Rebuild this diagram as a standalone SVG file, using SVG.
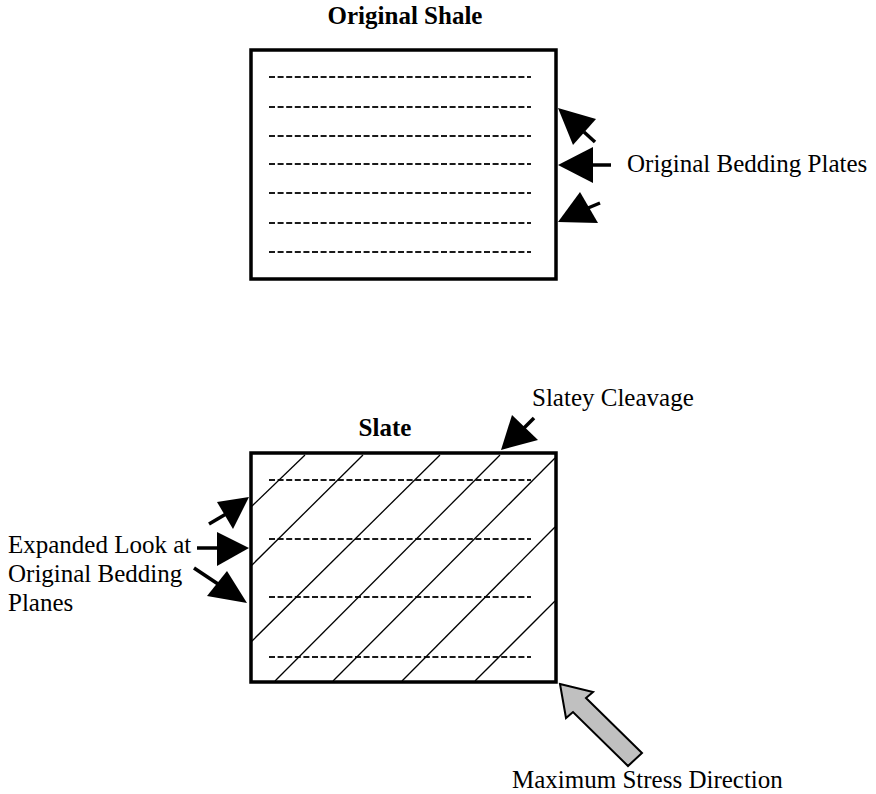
<svg xmlns="http://www.w3.org/2000/svg" width="876" height="794" viewBox="0 0 876 794">
  <style>
    .title { font-family: "Liberation Serif", "Times New Roman", serif; font-size: 25px; font-weight: bold; fill: #000; }
    .label { font-family: "Liberation Serif", "Times New Roman", serif; font-size: 25px; fill: #000; }
    .box { fill: #fff; stroke: #000; stroke-width: 3.5; }
    .bed { stroke: #1a1a1a; stroke-width: 2.2; stroke-dasharray: 6 2.6; fill: none; }
    .cleave { stroke: #000; stroke-width: 1.3; fill: none; }
    .shaft { stroke: #000; stroke-width: 3.5; fill: none; }
    .head { fill: #000; stroke: none; }
  </style>
  <rect width="876" height="794" fill="#fff"/>

  <!-- Original shale block -->
  <g id="shale">
    <text class="title" x="405" y="24" text-anchor="middle">Original Shale</text>
    <rect class="box" x="251" y="50" width="305" height="229"/>
    <line class="bed" x1="269" y1="77" x2="531" y2="77"/>
    <line class="bed" x1="269" y1="107" x2="531" y2="107"/>
    <line class="bed" x1="269" y1="136" x2="531" y2="136"/>
    <line class="bed" x1="269" y1="164" x2="531" y2="164"/>
    <line class="bed" x1="269" y1="193" x2="531" y2="193"/>
    <line class="bed" x1="269" y1="223" x2="531" y2="223"/>
    <line class="bed" x1="269" y1="252" x2="531" y2="252"/>
  </g>

  <!-- Slate block -->
  <g id="slate">
    <text class="title" x="385" y="436" text-anchor="middle">Slate</text>
    <rect class="box" x="251" y="453" width="305" height="229"/>
    <line class="bed" x1="269" y1="480" x2="531" y2="480"/>
    <line class="bed" x1="269" y1="539" x2="531" y2="539"/>
    <line class="bed" x1="269" y1="597" x2="531" y2="597"/>
    <line class="bed" x1="269" y1="657" x2="531" y2="657"/>
    <line class="cleave" x1="251" y1="507" x2="305" y2="455"/>
    <line class="cleave" x1="251" y1="566" x2="363" y2="455"/>
    <line class="cleave" x1="251" y1="642" x2="440" y2="455"/>
    <line class="cleave" x1="275" y1="681" x2="500" y2="455"/>
    <line class="cleave" x1="333" y1="681" x2="555" y2="458"/>
    <line class="cleave" x1="402" y1="681" x2="555" y2="527"/>
    <line class="cleave" x1="475" y1="681" x2="555" y2="601"/>
  </g>

  <!-- Labels -->
  <g id="label-bedding-plates">
    <text class="label" x="627" y="172">Original Bedding Plates</text>
  </g>
  <g id="label-cleavage">
    <text class="label" x="532" y="406">Slatey Cleavage</text>
  </g>
  <g id="label-expanded">
    <text class="label" x="8" y="553">Expanded Look at</text>
    <text class="label" x="8" y="582">Original Bedding</text>
    <text class="label" x="8" y="611">Planes</text>
  </g>
  <g id="label-stress">
    <text class="label" x="512" y="788">Maximum Stress Direction</text>
  </g>

  <!-- Pointer arrows -->
  <g id="connectors">
    <!-- to shale bedding -->
    <line class="shaft" x1="584" y1="132" x2="595" y2="142"/>
    <polygon class="head" points="558,108 596,119 573,145"/>
    <line class="shaft" x1="590" y1="165" x2="611" y2="165"/>
    <polygon class="head" points="558,165 593,147 593,183"/>
    <line class="shaft" x1="588" y1="208" x2="600" y2="203"/>
    <polygon class="head" points="558,222 580,192 598,223"/>

    <!-- to slate bedding -->
    <line class="shaft" x1="226" y1="514" x2="209" y2="524"/>
    <polygon class="head" points="249,497 217,502 233,529"/>
    <line class="shaft" x1="220" y1="548" x2="197" y2="548"/>
    <polygon class="head" points="249,548 217,532 217,566"/>
    <line class="shaft" x1="218" y1="584" x2="194" y2="568"/>
    <polygon class="head" points="247,603 227,571 207,596"/>

    <!-- to cleavage -->
    <line class="shaft" x1="524" y1="428" x2="534" y2="418"/>
    <polygon class="head" points="501,450 512,415 538,440"/>

    <!-- maximum stress block arrow -->
    <polygon points="560,684 593,692 586,698 642,753 628,766 573,712 566,718" fill="#c0c0c0" stroke="#000" stroke-width="2" stroke-linejoin="miter"/>
  </g>
</svg>
